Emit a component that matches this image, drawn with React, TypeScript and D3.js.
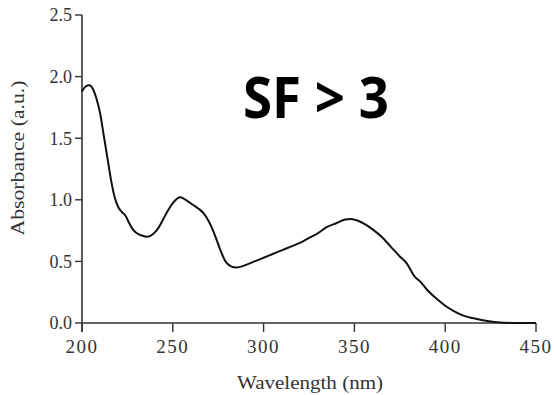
import React from "react";
import * as d3 from "d3";

const wavelength = [200, 202, 204, 206, 208, 210, 212, 214, 216, 218, 220, 222, 224, 226, 228, 230, 233, 236, 239, 242, 245, 248, 251, 254, 256, 258, 261, 264, 267, 270, 273, 276, 279, 282, 285, 290, 295, 300, 305, 310, 315, 320, 325, 330, 335, 340, 345, 348, 352, 356, 360, 365, 370, 375, 379, 381, 383, 386, 390, 395, 400, 405, 410, 415, 420, 425, 430, 440, 450];
const absorbance = [1.88, 1.92, 1.93, 1.9, 1.82, 1.7, 1.52, 1.34, 1.16, 1.02, 0.94, 0.9, 0.87, 0.81, 0.76, 0.73, 0.71, 0.7, 0.72, 0.77, 0.85, 0.93, 0.99, 1.02, 1.01, 0.99, 0.96, 0.93, 0.89, 0.82, 0.72, 0.6, 0.5, 0.46, 0.45, 0.47, 0.5, 0.53, 0.56, 0.59, 0.62, 0.65, 0.69, 0.73, 0.78, 0.81, 0.84, 0.845, 0.83, 0.8, 0.76, 0.7, 0.62, 0.54, 0.48, 0.43, 0.38, 0.34, 0.27, 0.2, 0.14, 0.095, 0.06, 0.04, 0.025, 0.012, 0.005, 0.0, 0.0];
const xTicks = [200, 250, 300, 350, 400, 450];
const yTicks = [0, 0.5, 1.0, 1.5, 2.0, 2.5];

export default function App() {
  const x = d3.scaleLinear().domain([200, 450]).range([82, 536]);
  const y = d3.scaleLinear().domain([0, 2.5]).range([323, 15]);
  const pts = wavelength.map((w, i) => [w, absorbance[i]] as [number, number]);
  const line = d3
    .line<[number, number]>()
    .x((d) => x(d[0]))
    .y((d) => y(d[1]))
    .curve(d3.curveMonotoneX);
  const serif = "'Liberation Serif', 'DejaVu Serif', serif";
  const axisColor = "#333";
  return (
    <svg width={554} height={395} style={{ position: "absolute", left: 0, top: 0, background: "#fff" }}>
      <rect width={554} height={395} fill="#fff" />
      {/* axes */}
      <line x1={x(200)} x2={x(200)} y1={y(2.5)} y2={y(0) + 9} stroke={axisColor} strokeWidth={1.6} />
      <line x1={x(200)} x2={x(450)} y1={y(0)} y2={y(0)} stroke={axisColor} strokeWidth={1.6} />
      {yTicks.map((t) => (
        <g key={"y" + t}>
          <line x1={x(200) - 7} x2={x(200)} y1={y(t)} y2={y(t)} stroke={axisColor} strokeWidth={1.4} />
          <text x={x(200) - 10} y={y(t)} dy="0.35em" textAnchor="end" fontFamily={serif} fontSize={18} fill="#333">
            {t.toFixed(1)}
          </text>
        </g>
      ))}
      {xTicks.map((t) => (
        <g key={"x" + t}>
          <line x1={x(t)} x2={x(t)} y1={y(0)} y2={y(0) + 9} stroke={axisColor} strokeWidth={1.4} />
          <text x={x(t)} y={y(0) + 30} textAnchor="middle" fontFamily={serif} fontSize={19} fill="#333" letterSpacing={1.5}>
            {t}
          </text>
        </g>
      ))}
      <path d={line(pts) || ""} fill="none" stroke="#111" strokeWidth={2} />
      <text x={310} y={389} textAnchor="middle" fontFamily={serif} fontSize={18} fill="#333" textLength={146} lengthAdjust="spacingAndGlyphs">
        Wavelength (nm)
      </text>
      <text transform="translate(24,158) rotate(-90)" textAnchor="middle" fontFamily={serif} fontSize={18} fill="#333" textLength={155} lengthAdjust="spacingAndGlyphs">
        Absorbance (a.u.)
      </text>
      <text x={243} y={118} fontFamily="'Open Sans', 'Noto Sans', sans-serif" fontWeight="bold" fontSize={57} fill="#000" textLength={146} lengthAdjust="spacingAndGlyphs">
        SF &gt; 3
      </text>
    </svg>
  );
}
